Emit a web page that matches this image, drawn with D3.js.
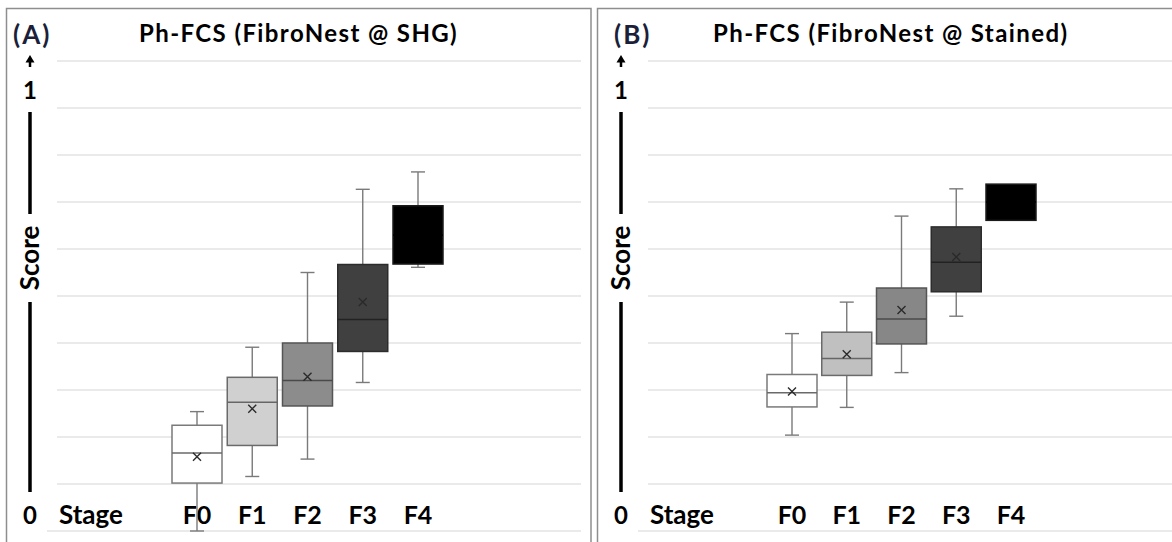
<!DOCTYPE html>
<html>
<head>
<meta charset="utf-8">
<script src="https://cdn.jsdelivr.net/npm/d3@7"></script>
<style>
  body { margin: 0; background: #fff; }
  svg { display: block; font-family: Lato, 'Open Sans', sans-serif; font-weight: bold; }
</style>
</head>
<body>
<div id="chart"></div>
<script>
// data
const stages = ['F0', 'F1', 'F2', 'F3', 'F4']
const scoreTicks = d3.range(0, 1.01, 0.1)

// panel A - SHG
const shgMin = [0.0, 0.116, 0.153, 0.316, 0.561]
const shgQ1 = [0.102, 0.182, 0.266, 0.382, 0.568]
const shgMedian = [0.166, 0.274, 0.32, 0.45, 0.63]
const shgQ3 = [0.225, 0.327, 0.4, 0.567, 0.692]
const shgMax = [0.254, 0.391, 0.55, 0.727, 0.764]
const shgMean = [0.158, 0.26, 0.328, 0.487, 0.63]

// panel B - Stained
const stMin = [0.204, 0.263, 0.337, 0.457, 0.661]
const stQ1 = [0.264, 0.331, 0.398, 0.509, 0.661]
const stMedian = [0.294, 0.367, 0.451, 0.572, 0.7]
const stQ3 = [0.333, 0.423, 0.517, 0.647, 0.738]
const stMax = [0.42, 0.487, 0.67, 0.728, 0.738]
const stMean = [0.297, 0.376, 0.47, 0.583, 0.7]

function rows(mins, q1s, meds, q3s, maxs, means) {
  return stages.map((s, i) => ({
    stage: s, min: mins[i], q1: q1s[i], median: meds[i],
    q3: q3s[i], max: maxs[i], mean: means[i],
  }))
}

const panels = [
  {
    tag: '(A)', title: 'Ph-FCS (FibroNest @ SHG)', dx: 0,
    boxes: [197, 418], gridEnd: 581, tagX: 13, titleX: 139,
    fills: ['#ffffff', '#d0d0d0', '#8c8c8c', '#404040', '#000000'],
    data: rows(shgMin, shgQ1, shgMedian, shgQ3, shgMax, shgMean),
  },
  {
    tag: '(B)', title: 'Ph-FCS (FibroNest @ Stained)', dx: 591,
    boxes: [201, 420], gridEnd: 600, tagX: 23, titleX: 122,
    fills: ['#ffffff', '#c0c0c0', '#878787', '#404040', '#000000'],
    data: rows(stMin, stQ1, stMedian, stQ3, stMax, stMean),
  },
]

const strokes = ['#7a7a7a', '#6a6a6a', '#555555', '#2c2c2c', '#1a1a1a']
const medianStroke = ['#6a6a6a', '#666666', '#4a4a4a', '#222222', '#000000']

// size
const W = 1172
const H = 542
const boxW = 50
const capW = 14

const y = d3.scaleLinear().domain([0, 1]).range([531, 61])

const svg = d3.select('#chart').append('svg')
  .attr('width', W).attr('height', H)

panels.forEach(p => {
  const g = svg.append('g').attr('transform', `translate(${p.dx}, 0)`)

  // frame
  g.append('rect')
    .attr('x', 6.5).attr('y', 8.5)
    .attr('width', p.dx === 0 ? 584.5 : 590).attr('height', 560)
    .attr('fill', 'none').attr('stroke', '#8e8e8e').attr('stroke-width', 1.5)

  // gridlines
  g.append('g').selectAll('line')
    .data(scoreTicks)
    .join('line')
    .attr('x1', d => (d === 0 ? 47 : 57))
    .attr('x2', p.gridEnd)
    .attr('y1', d => y(d)).attr('y2', d => y(d))
    .attr('stroke', '#e3e3e3').attr('stroke-width', 1.6)

  // y-axis annotation
  g.append('path')
    .attr('d', 'M30,55 L34.5,62.5 L25.5,62.5 Z')
    .attr('fill', '#000')
  g.append('line')
    .attr('x1', 30).attr('x2', 30).attr('y1', 62).attr('y2', 67)
    .attr('stroke', '#000').attr('stroke-width', 2.5)
  g.append('text').attr('x', 30).attr('y', 99)
    .attr('text-anchor', 'middle').attr('font-size', 24).text('1')
  g.append('line')
    .attr('x1', 30).attr('x2', 30).attr('y1', 112).attr('y2', 214)
    .attr('stroke', '#000').attr('stroke-width', 3.5)
  g.append('text')
    .attr('transform', 'translate(39, 258) rotate(-90)')
    .attr('text-anchor', 'middle').attr('font-size', 26).text('Score')
  g.append('line')
    .attr('x1', 30).attr('x2', 30).attr('y1', 302).attr('y2', 492)
    .attr('stroke', '#000').attr('stroke-width', 3.5)
  g.append('text').attr('x', 30).attr('y', 524)
    .attr('text-anchor', 'middle').attr('font-size', 24).text('0')

  // titles
  g.append('text').attr('x', p.tagX).attr('y', 44)
    .attr('font-size', 26).attr('letter-spacing', 2)
    .attr('fill', '#1b1f3a').text(p.tag)
  g.append('text').attr('x', p.titleX).attr('y', 42)
    .attr('font-size', 24).attr('letter-spacing', 1.4).text(p.title)

  // x labels
  const x = d3.scalePoint().domain(stages).range(p.boxes)
  g.append('text').attr('x', 59).attr('y', 524)
    .attr('font-size', 26).text('Stage')
  g.append('g').selectAll('text')
    .data(stages)
    .join('text')
    .attr('x', d => x(d)).attr('y', 524)
    .attr('text-anchor', 'middle').attr('font-size', 25)
    .text(d => d)

  // boxes
  const box = g.append('g').selectAll('g')
    .data(p.data)
    .join('g')
    .attr('transform', d => `translate(${x(d.stage)}, 0)`)

  // whiskers
  box.append('line')
    .attr('y1', d => y(d.max)).attr('y2', d => y(d.q3))
    .attr('stroke', '#7a7a7a').attr('stroke-width', 1.4)
  box.append('line')
    .attr('y1', d => y(d.q1)).attr('y2', d => y(d.min))
    .attr('stroke', '#7a7a7a').attr('stroke-width', 1.4)
  box.selectAll('line.cap')
    .data(d => (d.max > d.q3 ? [d.min, d.max] : []))
    .join('line')
    .attr('class', 'cap')
    .attr('x1', -capW / 2).attr('x2', capW / 2)
    .attr('y1', v => y(v)).attr('y2', v => y(v))
    .attr('stroke', '#7a7a7a').attr('stroke-width', 1.4)

  box.append('rect')
    .attr('x', -boxW / 2).attr('width', boxW)
    .attr('y', d => y(d.q3)).attr('height', d => y(d.q1) - y(d.q3))
    .attr('fill', (d, i) => p.fills[i])
    .attr('stroke', (d, i) => strokes[i]).attr('stroke-width', 1.5)

  box.append('line')
    .attr('x1', -boxW / 2).attr('x2', boxW / 2)
    .attr('y1', d => y(d.median)).attr('y2', d => y(d.median))
    .attr('stroke', (d, i) => medianStroke[i]).attr('stroke-width', 1.5)

  // mean marker
  box.append('path')
    .attr('d', d => {
      const c = y(d.mean)
      return `M-4,${c - 4}L4,${c + 4}M-4,${c + 4}L4,${c - 4}`
    })
    .attr('stroke', (d, i) => (i === 4 ? '#000' : '#2a2a2a')).attr('stroke-width', 1.4)
})
</script>
</body>
</html>
